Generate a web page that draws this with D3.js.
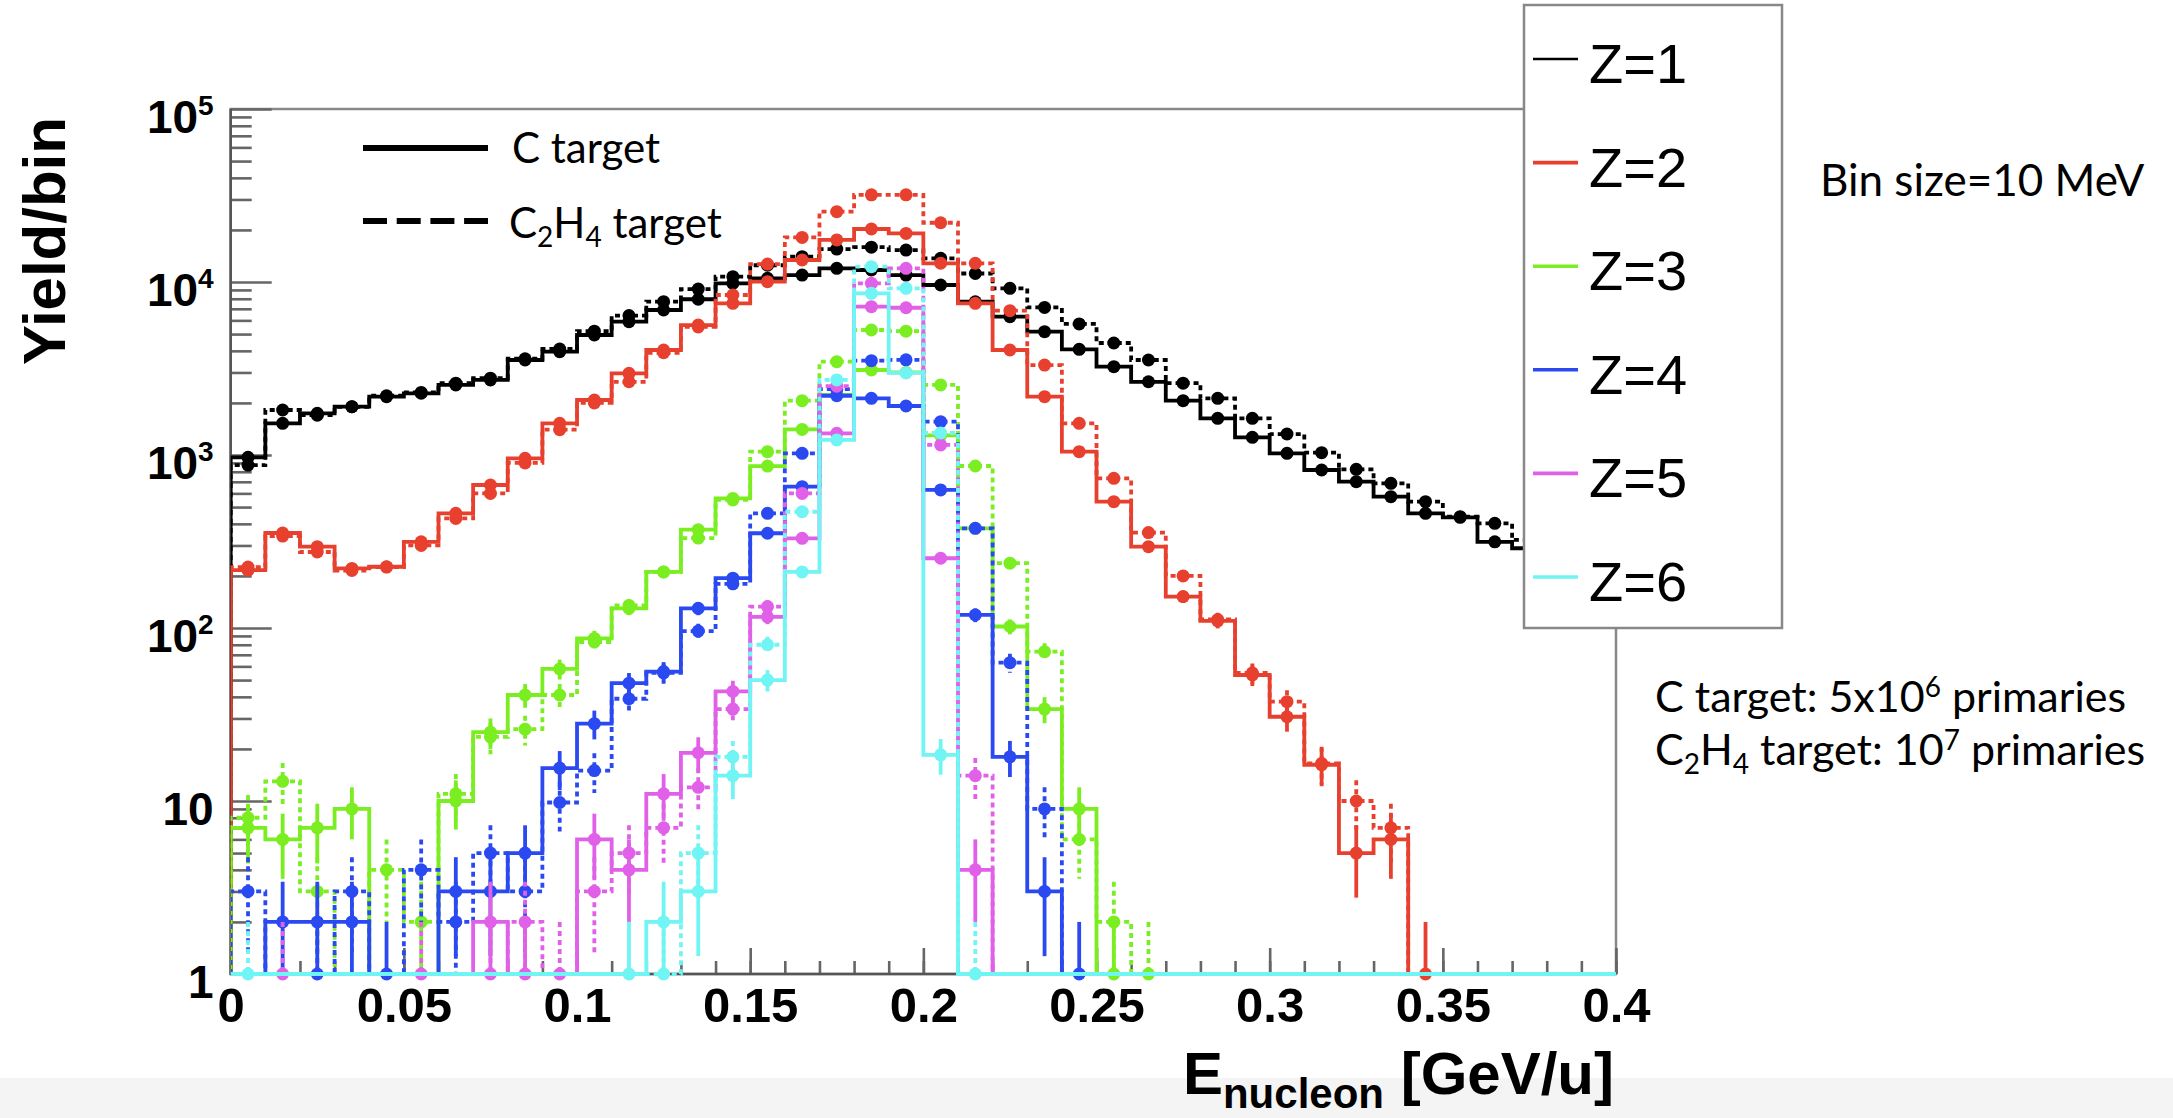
<!DOCTYPE html>
<html>
<head>
<meta charset="utf-8">
<script src="https://cdn.jsdelivr.net/npm/d3@7"></script>
<style>
  body { margin: 0; background: #fff; }
  svg { display: block; }
</style>
</head>
<body>
<div class="chart"></div>
<script>
// energy bins, 10 MeV wide
const binCenters = [0.005, 0.015, 0.025, 0.035, 0.045, 0.055, 0.065, 0.075, 0.085, 0.095,
                    0.105, 0.115, 0.125, 0.135, 0.145, 0.155, 0.165, 0.175, 0.185, 0.195,
                    0.205, 0.215, 0.225, 0.235, 0.245, 0.255, 0.265, 0.275, 0.285, 0.295,
                    0.305, 0.315, 0.325, 0.335, 0.345, 0.355, 0.365, 0.375, 0.385, 0.395];
const binWidth = 0.01;

const zLabels = ["Z=1", "Z=2", "Z=3", "Z=4", "Z=5", "Z=6"];
const zColors = ["#000000", "#e8402e", "#7aee20", "#2b49f0", "#e060e8", "#70f4f4"];

// C target (solid)
const cZ1 = [970, 1525, 1742, 1902, 2173, 2274, 2541, 2716, 3542, 3955,
             4940, 5900, 6890, 7950, 9820, 10500, 10970, 11990, 11730, 10970,
             9610, 7690, 6300, 5160, 4080, 3240, 2650, 2060, 1629, 1265,
             1023, 819, 701, 574, 460, 436, 315, 289, 265, 240];
const cZ2 = [216, 354, 295, 221, 226, 315, 460, 671, 957, 1525,
             2080, 2966, 4045, 5640, 7530, 10050, 13400, 17500, 20250, 19100,
             12830, 7530, 4045, 2173, 1045, 537, 295, 152, 110, 53.5,
             30.7, 16.2, 5, 6, 1, 0, 0, 0, 0, 0];
const cZ3 = [7, 6, 7, 9, 0, 0, 10, 25, 41, 58,
             87, 130, 211, 370, 561, 863, 1406, 2222, 3100, 3000,
             1300, 377, 102, 34, 9, 1, 0, 0, 0, 0,
             0, 0, 0, 0, 0, 0, 0, 0, 0, 0];
const cZ4 = [0, 2, 2, 2, 1, 0, 3, 3, 5, 15.5,
             28, 48, 56, 130, 194, 353, 656, 2200, 2125, 1920,
             628, 119, 18, 3, 1, 0, 0, 0, 0, 0,
             0, 0, 0, 0, 0, 0, 0, 0, 0, 0];
const cZ5 = [0, 0, 0, 0, 0, 0, 0, 2, 1, 0,
             6, 4, 11, 19, 43, 116, 330, 1334, 7200, 7100,
             253, 4, 0, 0, 0, 0, 0, 0, 0, 0,
             0, 0, 0, 0, 0, 0, 0, 0, 0, 0];
const cZ6 = [0, 0, 0, 0, 0, 0, 0, 0, 0, 0,
             0, 1, 2, 3, 14, 50, 211, 1222, 8600, 2980,
             18.5, 0, 0, 0, 0, 0, 0, 0, 0, 0,
             0, 0, 0, 0, 0, 0, 0, 0, 0, 0];

// C2H4 target (dashed)
const c2h4Z1 = [875, 1820, 1700, 1900, 2200, 2300, 2600, 2780, 3600, 4100,
                5200, 6400, 7700, 9100, 10730, 12500, 14000, 15500, 15900, 15300,
                13700, 11200, 9190, 7130, 5720, 4440, 3540, 2600, 2125, 1629,
                1322, 1031, 826, 686, 537, 440, 403, 323, 290, 262];
const c2h4Z2 = [225, 340, 275, 215, 225, 300, 430, 600, 900, 1400,
                2000, 2650, 3900, 5500, 8410, 12700, 18100, 25500, 31900, 31900,
                22000, 12830, 6830, 3310, 1525, 733, 356, 200, 112, 55,
                37.5, 16.5, 10, 7, 0, 0, 0, 0, 0, 0];
const c2h4Z3 = [8, 13, 3, 0, 4, 2, 11, 23.5, 26, 41,
                83, 135, 211, 331, 550, 1045, 2060, 3465, 5280, 5200,
                2541, 864, 237, 73, 6, 2, 1, 0, 0, 0,
                0, 0, 0, 0, 0, 0, 0, 0, 0, 0];
const c2h4Z4 = [3, 0, 1, 3, 0, 4, 2, 5, 3, 9.8,
                15, 39, 55, 96, 180, 460, 1023, 2400, 3510, 3550,
                1558, 377, 63, 9, 0, 0, 0, 0, 0, 0,
                0, 0, 0, 0, 0, 0, 0, 0, 0, 0];
const c2h4Z5 = [0, 1, 0, 0, 0, 1, 0, 1, 2, 1,
                3, 5, 7, 12, 34, 133, 600, 2500, 9820, 12000,
                1143, 14, 0, 0, 0, 0, 0, 0, 0, 0,
                0, 0, 0, 0, 0, 0, 0, 0, 0, 0];
const c2h4Z6 = [1, 0, 0, 0, 0, 0, 0, 0, 0, 0,
                0, 0, 1, 5, 18, 80, 470, 2716, 12270, 9190,
                1340, 1, 0, 0, 0, 0, 0, 0, 0, 0,
                0, 0, 0, 0, 0, 0, 0, 0, 0, 0];

const xTicks = [0, 0.05, 0.1, 0.15, 0.2, 0.25, 0.3, 0.35, 0.4];
const xTickLabels = ["0", "0.05", "0.1", "0.15", "0.2", "0.25", "0.3", "0.35", "0.4"];
const yTicks = [1, 10, 100, 1000, 10000, 100000];
const yTickLabels = [["1", ""], ["10", ""], ["10", "2"], ["10", "3"], ["10", "4"], ["10", "5"]];

const cSeries = [cZ1, cZ2, cZ3, cZ4, cZ5, cZ6];
const c2h4Series = [c2h4Z1, c2h4Z2, c2h4Z3, c2h4Z4, c2h4Z5, c2h4Z6];

(function() {
    var width = 2173, height = 1118;
    var left = 230.7, right = 1616, top = 109, bottom = 974;
    var dash = "5,4";
    var lw = 3.8;

    var svg = d3.select(".chart").append("svg")
        .attr("width", width)
        .attr("height", height)
        .style("font-family", "'Liberation Sans', Arial, Helvetica, sans-serif");

    // light band at the bottom of the slide
    svg.append("rect")
        .attr("x", 0).attr("y", 1078).attr("width", width).attr("height", 40)
        .attr("fill", "#f4f4f4");

    var x = d3.scaleLinear().domain([0, 0.4]).range([left, right]);
    var y = d3.scaleLog().domain([1, 1e5]).range([bottom, top]);
    function yv(v) { return v >= 1 ? y(v) : y(1); }

    // frame
    svg.append("rect")
        .attr("x", left).attr("y", top)
        .attr("width", right - left).attr("height", bottom - top)
        .attr("fill", "none").attr("stroke", "#888").attr("stroke-width", 2.5);

    // x axis: minor then major ticks (pointing inwards)
    var minorX = d3.range(0, 41).map(function(i) { return i * 0.01; });
    var gxMinor = svg.append("g").attr("transform", "translate(0," + bottom + ")")
        .call(d3.axisBottom(x).tickValues(minorX).tickSizeInner(-13).tickSizeOuter(0).tickFormat(""));
    gxMinor.select(".domain").remove();
    var gx = svg.append("g").attr("transform", "translate(0," + bottom + ")")
        .call(d3.axisBottom(x).tickValues(xTicks).tickSizeInner(-26).tickSizeOuter(0)
              .tickPadding(13)
              .tickFormat(function(d, i) { return xTickLabels[i]; }));
    gx.select(".domain").remove();
    svg.selectAll("g.tick line").attr("stroke", "#666").attr("stroke-width", 2.6);
    gx.selectAll("text")
        .attr("font-size", 49).attr("font-weight", "bold").attr("fill", "#000")
        .attr("font-family", "'Liberation Sans', Arial, sans-serif");

    // y axis (log)
    var minorY = [];
    for (var d = 0; d < 5; d++) {
        for (var k = 2; k <= 9; k++) minorY.push(k * Math.pow(10, d));
    }
    var gyMinor = svg.append("g").attr("transform", "translate(" + left + ",0)")
        .call(d3.axisLeft(y).tickValues(minorY).tickSizeInner(-21).tickSizeOuter(0).tickFormat(""));
    gyMinor.select(".domain").remove();
    var gy = svg.append("g").attr("transform", "translate(" + left + ",0)")
        .call(d3.axisLeft(y).tickValues(yTicks).tickSizeInner(-41).tickSizeOuter(0)
              .tickPadding(17).tickFormat(""));
    gy.select(".domain").remove();
    gyMinor.selectAll("line").attr("stroke", "#666").attr("stroke-width", 2.6);
    gy.selectAll("line").attr("stroke", "#666").attr("stroke-width", 2.6);
    gy.selectAll("g.tick text").each(function(d, i) {
        var t = d3.select(this)
            .attr("x", -17).attr("dy", null).attr("y", 23)
            .attr("text-anchor", "end")
            .attr("font-size", 46).attr("font-weight", "bold").attr("fill", "#000")
            .attr("font-family", "'Liberation Sans', Arial, sans-serif");
        t.text(null);
        t.append("tspan").text(yTickLabels[i][0]);
        if (yTickLabels[i][1]) {
            t.append("tspan").attr("font-size", 28).attr("dy", -18).text(yTickLabels[i][1]);
        }
    });

    // left and bottom axis lines
    svg.append("line")
        .attr("x1", left).attr("x2", left).attr("y1", top).attr("y2", bottom + 1)
        .attr("stroke", "#555").attr("stroke-width", 2.6);
    svg.append("line")
        .attr("x1", left).attr("x2", right).attr("y1", bottom).attr("y2", bottom)
        .attr("stroke", "#555").attr("stroke-width", 2.6);

    // histograms
    svg.append("defs").append("clipPath").attr("id", "plot-clip")
        .append("rect")
        .attr("x", left).attr("y", top)
        .attr("width", right - left).attr("height", bottom - top + 12);

    var plot = svg.append("g").attr("clip-path", "url(#plot-clip)");

    var step = d3.line()
        .x(function(d) { return x(d[0]); })
        .y(function(d) { return yv(d[1]); })
        .curve(d3.curveStepAfter);

    function drawHist(values, color, dashed) {
        var pts = [[binCenters[0] - binWidth / 2, 0]];
        values.forEach(function(v, i) { pts.push([binCenters[i] - binWidth / 2, v]); });
        pts.push([binCenters[binCenters.length - 1] + binWidth / 2, values[values.length - 1]]);

        var g = plot.append("g");
        g.append("path")
            .attr("d", step(pts))
            .attr("fill", "none")
            .attr("stroke", color)
            .attr("stroke-width", lw)
            .attr("stroke-dasharray", dashed ? dash : null);

        var filled = values.map(function(v, i) { return { x: binCenters[i], v: v }; })
            .filter(function(d) { return d.v >= 1; });

        g.selectAll(".err")
            .data(filled)
            .enter().append("line")
            .attr("class", "err")
            .attr("x1", function(d) { return x(d.x); })
            .attr("x2", function(d) { return x(d.x); })
            .attr("y1", function(d) { return yv(d.v + Math.sqrt(d.v)); })
            .attr("y2", function(d) { return yv(d.v - Math.sqrt(d.v)); })
            .attr("stroke", color)
            .attr("stroke-width", lw)
            .attr("stroke-dasharray", dashed ? dash : null);

        g.selectAll(".mk")
            .data(filled)
            .enter().append("circle")
            .attr("class", "mk")
            .attr("cx", function(d) { return x(d.x); })
            .attr("cy", function(d) { return yv(d.v); })
            .attr("r", 6.5)
            .attr("fill", color);
    }

    for (var z = 0; z < 6; z++) {
        drawHist(c2h4Series[z], zColors[z], true);
        drawHist(cSeries[z], zColors[z], false);
    }

    // target legend (top left)
    var calibri = "Lato, 'Open Sans', sans-serif";
    svg.append("line")
        .attr("x1", 363).attr("x2", 488).attr("y1", 148).attr("y2", 148)
        .attr("stroke", "#000").attr("stroke-width", 6);
    svg.append("line")
        .attr("x1", 363).attr("x2", 488).attr("y1", 221).attr("y2", 221)
        .attr("stroke", "#000").attr("stroke-width", 6)
        .attr("stroke-dasharray", "24,9.7");
    svg.append("text")
        .attr("x", 512).attr("y", 163)
        .attr("font-family", calibri).attr("font-size", 42)
        .text("C target");
    var t2 = svg.append("text")
        .attr("x", 509).attr("y", 238)
        .attr("font-family", calibri).attr("font-size", 42);
    t2.append("tspan").text("C");
    t2.append("tspan").attr("font-size", 28).attr("dy", 9).text("2");
    t2.append("tspan").attr("dy", -9).text("H");
    t2.append("tspan").attr("font-size", 28).attr("dy", 9).text("4");
    t2.append("tspan").attr("dy", -9).text(" target");

    // Z legend box
    svg.append("rect")
        .attr("x", 1524).attr("y", 5).attr("width", 258).attr("height", 623)
        .attr("fill", "#fff").attr("stroke", "#888").attr("stroke-width", 2.5);

    var leg = svg.selectAll(".zleg")
        .data(zLabels)
        .enter().append("g")
        .attr("class", "zleg")
        .attr("transform", function(d, i) { return "translate(0," + (59 + i * 103.6) + ")"; });
    leg.append("line")
        .attr("x1", 1533).attr("x2", 1578).attr("y1", 0).attr("y2", 0)
        .attr("stroke", function(d, i) { return zColors[i]; })
        .attr("stroke-width", function(d, i) { return i === 0 ? 2.6 : 3.6; });
    leg.append("text")
        .attr("x", 1589).attr("y", 24)
        .attr("font-size", 56)
        .text(function(d) { return d; });

    // notes on the right
    svg.append("text")
        .attr("x", 1820).attr("y", 196)
        .attr("font-family", calibri).attr("font-size", 44)
        .text("Bin size=10 MeV");

    var n1 = svg.append("text")
        .attr("x", 1655).attr("y", 712)
        .attr("font-family", calibri).attr("font-size", 43);
    n1.append("tspan").text("C target: 5x10");
    n1.append("tspan").attr("font-size", 28).attr("dy", -15).text("6");
    n1.append("tspan").attr("dy", 15).text(" primaries");

    var n2 = svg.append("text")
        .attr("x", 1655).attr("y", 765)
        .attr("font-family", calibri).attr("font-size", 43);
    n2.append("tspan").text("C");
    n2.append("tspan").attr("font-size", 28).attr("dy", 9).text("2");
    n2.append("tspan").attr("dy", -9).text("H");
    n2.append("tspan").attr("font-size", 28).attr("dy", 9).text("4");
    n2.append("tspan").attr("dy", -9).text(" target: 10");
    n2.append("tspan").attr("font-size", 28).attr("dy", -15).text("7");
    n2.append("tspan").attr("dy", 15).text(" primaries");

    // axis titles
    var xt = svg.append("text")
        .attr("x", 1614).attr("y", 1094)
        .attr("text-anchor", "end")
        .attr("font-weight", "bold").attr("font-size", 60);
    xt.append("tspan").text("E");
    xt.append("tspan").attr("font-size", 42).attr("dy", 14).text("nucleon");
    xt.append("tspan").attr("dy", -14).text(" [GeV/u]");

    svg.append("text")
        .attr("transform", "translate(65,241) rotate(-90)")
        .attr("text-anchor", "middle")
        .attr("font-weight", "bold").attr("font-size", 60)
        .text("Yield/bin");
})();
</script>
</body>
</html>
